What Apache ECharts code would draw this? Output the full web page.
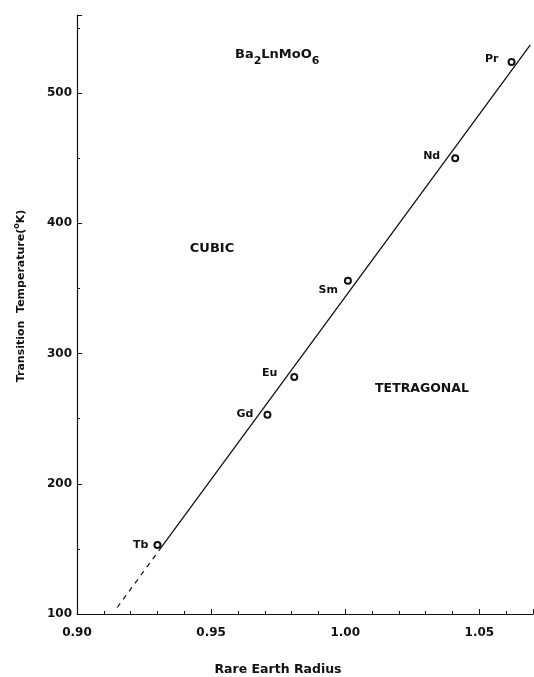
<!DOCTYPE html>
<html><head><meta charset="utf-8">
<script src="https://cdn.jsdelivr.net/npm/echarts@6/dist/echarts.min.js"></script>
<style>html,body{margin:0;padding:0;background:#fff}#c{width:534px;height:677px}</style>
</head><body><div id="c"></div>
<script>
// ---- data ----
const elements    = ['Pr', 'Nd', 'Sm', 'Eu', 'Gd', 'Tb'];
const radius      = [1.062, 1.041, 1.001, 0.981, 0.971, 0.930];
const temperature = [524, 450, 356, 282, 253, 153];
const fitSolid    = [[0.931, 150], [1.069, 537]];
const fitDashed   = [[0.915, 105], [0.931, 150]];
const xRange      = [0.90, 1.07];
const yRange      = [100, 560];

// ---- styling ----
const FONT = 'DejaVu Sans';
const labelPlacement = {
  Pr: {distance: 9,  offset: [0, -3]},
  Nd: {distance: 11, offset: [0, -2]},
  Sm: {distance: 6,  offset: [0, 9]},
  Eu: {distance: 13, offset: [0, -4]},
  Gd: {distance: 10, offset: [0, -1]},
  Tb: {distance: 5,  offset: [0, 0]}
};

const chart = echarts.init(document.getElementById('c'), null, {renderer: 'canvas'});
const axisCommon = {
  axisLine: {show: true, onZero: false, lineStyle: {color: '#111', width: 1.2}},
  axisTick: {show: true, inside: true, length: 5, lineStyle: {color: '#111', width: 1}},
  minorTick: {show: true, length: 3, lineStyle: {color: '#111', width: 1}},
  splitLine: {show: false},
  axisLabel: {color: '#111', fontFamily: FONT, fontWeight: 'bold', fontSize: 12, showMaxLabel: false}
};

chart.setOption({
  backgroundColor: '#fff',
  animation: false,
  grid: {left: 77, right: 1, top: 15, bottom: 63, containLabel: false},
  xAxis: Object.assign({}, axisCommon, {
    type: 'value', min: xRange[0], max: xRange[1], interval: 0.05,
    minorTick: Object.assign({}, axisCommon.minorTick, {splitNumber: 5}),
    axisLabel: Object.assign({}, axisCommon.axisLabel, {margin: 13, formatter: v => v.toFixed(2)})
  }),
  yAxis: Object.assign({}, axisCommon, {
    type: 'value', min: yRange[0], max: yRange[1], interval: 100,
    minorTick: Object.assign({}, axisCommon.minorTick, {splitNumber: 2}),
    axisLabel: Object.assign({}, axisCommon.axisLabel, {margin: 5})
  }),
  series: [
    {type: 'line', data: fitDashed, symbol: 'none', silent: true,
     lineStyle: {color: '#111', width: 1.2, type: [5, 5]}},
    {type: 'line', data: fitSolid, symbol: 'none', silent: true,
     lineStyle: {color: '#111', width: 1.3}},
    {type: 'scatter', symbol: 'emptyCircle', symbolSize: 6, z: 5,
     itemStyle: {color: '#111', borderColor: '#111', borderWidth: 1.3, opacity: 1},
     label: {show: true, position: 'left', formatter: p => p.name,
             color: '#111', fontFamily: FONT, fontWeight: 'bold', fontSize: 11},
     data: elements.map((n, i) => ({name: n, value: [radius[i], temperature[i]],
                                    label: labelPlacement[n]}))}
  ],
  graphic: [
    {type: 'text', left: 235, top: 48, style: {
      text: '{a|Ba}{s|2}{a|LnMoO}{s|6}', fill: '#111',
      rich: {a: {fontFamily: FONT, fontWeight: 'bold', fontSize: 13, verticalAlign: 'top'},
             s: {fontFamily: FONT, fontWeight: 'bold', fontSize: 11, padding: [8, 0, 0, 0], verticalAlign: 'top'}}}},
    {type: 'text', x: 212, y: 249, style: {text: 'CUBIC', fill: '#111', fontFamily: FONT, fontWeight: 'bold',
      fontSize: 13, align: 'center', verticalAlign: 'middle'}},
    {type: 'text', x: 422, y: 389, style: {text: 'TETRAGONAL', fill: '#111', fontFamily: FONT, fontWeight: 'bold',
      fontSize: 12.5, align: 'center', verticalAlign: 'middle'}},
    {type: 'text', x: 278, y: 670, style: {text: 'Rare Earth Radius', fill: '#111', fontFamily: FONT, fontWeight: 'bold',
      fontSize: 12.5, align: 'center', verticalAlign: 'middle'}},
    {type: 'text', x: 20, y: 296, rotation: Math.PI / 2, style: {
      text: '{a|Transition  Temperature(}{u|o}{a|K)}', fill: '#111', align: 'center', verticalAlign: 'middle',
      rich: {a: {fontFamily: FONT, fontWeight: 'bold', fontSize: 11, verticalAlign: 'bottom'},
             u: {fontFamily: FONT, fontWeight: 'bold', fontSize: 8, padding: [0, 0, 6, 0], verticalAlign: 'bottom'}}}}
  ]
});
</script></body></html>
